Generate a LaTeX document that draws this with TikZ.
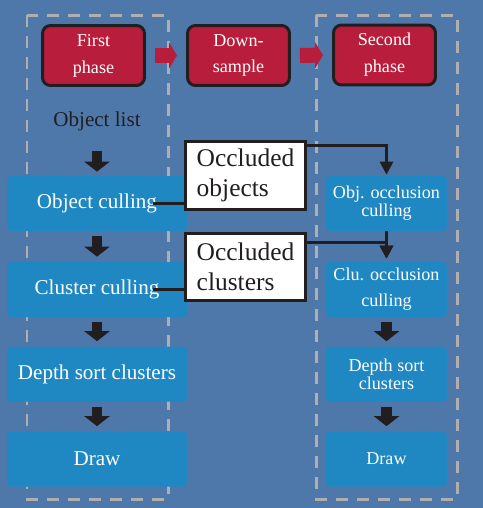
\documentclass[tikz,border=0pt]{standalone}
\usepackage{fontspec}
\setmainfont{Liberation Serif}
\usetikzlibrary{arrows.meta}
\definecolor{bg}{RGB}{78,120,170}
\definecolor{R}{RGB}{185,29,60}
\definecolor{B}{RGB}{31,136,194}
\definecolor{K}{RGB}{34,30,32}
\definecolor{D}{RGB}{175,175,175}

\begin{document}
\begin{tikzpicture}[x=0.02cm, y=-0.02cm,
  phase/.style={draw=K, line width=0.06cm, fill=R, rounded corners=0.16cm, minimum width=2.04cm, minimum height=1.2cm, text=white, align=center, font=\fontsize{10.3}{15.3}\selectfont},
  cull/.style={fill=B, rounded corners=0.08cm, minimum width=3.6cm, minimum height=1.1cm, text=white, align=center, font=\fontsize{12}{14}\selectfont},
  occl/.style={cull, minimum width=2.42cm, font=\fontsize{10.3}{10.3}\selectfont},
  note/.style={draw=K, fill=white, line width=0.06cm, minimum width=2.4cm, minimum height=1.36cm, align=left, text=K, font=\fontsize{14.5}{17}\selectfont},
  frame/.style={D, line width=0.06cm, dash pattern=on 0.24cm off 0.18cm},
  blockR/.style={R, line width=0.3cm, -{Triangle[width=0.52cm,length=0.16cm]}, shorten <=0.18cm, shorten >=0.18cm},
  blockD/.style={K, line width=0.22cm, -{Triangle[width=0.5cm,length=0.2cm]}, shorten <=0.1cm, shorten >=0.1cm},
  link/.style={K, line width=0.06cm, -{Triangle[width=0.26cm,length=0.26cm]}}]
  \fill[bg] (0,0) rectangle (483,508);
  \draw[frame] (27,15) rectangle (168,499);
  \draw[frame] (316,15) rectangle (457,499);

  \node[phase] (first) at (93.5,55.5) {First\\phase};
  \node[phase] (down) at (238.5,55.5) {Down-\\sample};
  \node[phase] (second) at (384.5,55) {Second\\phase};
  \draw[blockR] (first) -- (down);
  \draw[blockR] (down) -- (second);

  \node[anchor=base, text=K, font=\fontsize{12}{14}\selectfont] (objlist) at (97,126) {Object list};
  \node[cull] (objcull) at (97,203.5) {Object culling};
  \node[cull] (clucull) at (97,289.5) {Cluster culling};
  \node[cull] (depth) at (97,374) {Depth sort clusters};
  \node[cull] (draw) at (97,459) {Draw};
  \draw[blockD, shorten <=0.28cm, shorten >=0.08cm] (objlist) -- (objcull);
  \draw[blockD] (objcull) -- (clucull);
  \draw[blockD] (clucull) -- (depth);
  \draw[blockD] (depth) -- (draw);

  \node[occl] (objocc) at (386.5,203.5) {Obj. occlusion\\culling};
  \node[occl, font=\fontsize{10.3}{14.7}\selectfont] (cluocc) at (386.5,289.5) {Clu. occlusion\\culling};
  \node[occl] (depth2) at (386.5,374) {Depth sort\\clusters};
  \node[occl] (draw2) at (386.5,459) {Draw};
  \draw[blockD] (cluocc) -- (depth2);
  \draw[blockD] (depth2) -- (draw2);

  \node[note] (occobj) at (245.5,175.5) {Occluded\\objects};
  \node[note] (occclu) at (245.5,267) {Occluded\\clusters};
  \draw[K, line width=0.06cm] (occobj.west |- objcull) -- ++(-31,0);
  \draw[K, line width=0.06cm] (occclu.west |- clucull) -- ++(-31,0);
  \draw[link, shorten >=0.02cm] ([yshift=-0.1cm]occobj.north east) -| (objocc.north);
  \draw[link, shorten >=0.06cm] (objocc) -- (cluocc);
  \draw[link, shorten >=0.06cm] ([yshift=-0.22cm]occclu.north east) -| (cluocc.north);
\end{tikzpicture}
\end{document}
